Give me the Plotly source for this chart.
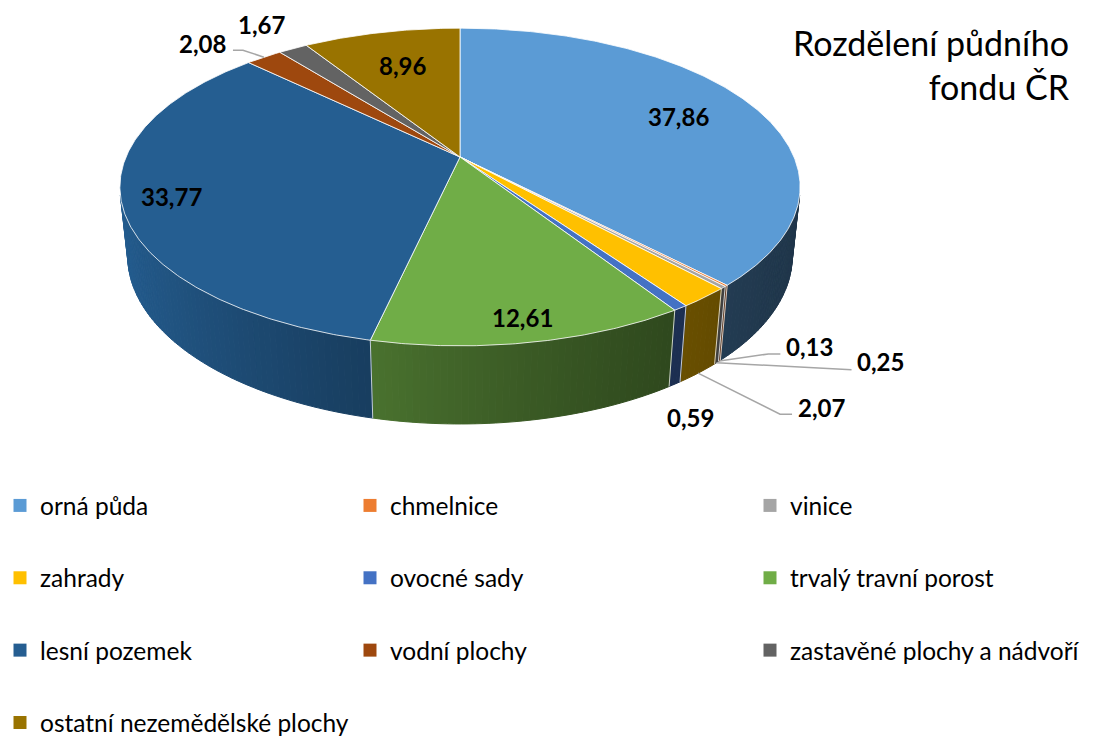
import math
import plotly.graph_objects as go

# ---------------- data ----------------
categories = ["orná půda", "chmelnice", "vinice", "zahrady", "ovocné sady",
              "trvalý travní porost", "lesní pozemek", "vodní plochy",
              "zastavěné plochy a nádvoří", "ostatní nezemědělské plochy"]
values = [37.86, 0.13, 0.25, 2.07, 0.59, 12.61, 33.77, 2.08, 1.67, 8.96]
title_lines = ["Rozdělení půdního", "fondu ČR"]

# ---------------- style ----------------
colors = ["#5B9BD5", "#ED7D31", "#A5A5A5", "#FFC000", "#4472C4",
          "#70AD47", "#255E91", "#9E480E", "#636363", "#997300"]
FONT = "Lato"
W, H = 1098, 738
# 3D projection settings (pixel space)
CX, CY = 460.0, 157.0
F = 334.0
ALPHA = math.radians(27.3)
RR = 0.2125      # radius / camera distance
HH = 0.234       # thickness / radius
SA, CA = math.sin(ALPHA), math.cos(ALPHA)

# label placement: ("in", radius) or ("out", label offset, leader offsets)
label_place = [
    ("in", 0.74),
    ("out", (90, -14), [(49, -7), (61, -7)]),
    ("out", (164, -1), [(135, 7)]),
    ("out", (123, 34), [(82, 41), (94, 41)]),
    ("out", (16, 33), []),
    ("in", 0.89),
    ("in", 0.86),
    ("out", (-61, -14), [(-21, -7), (-31, -7)]),
    ("out", (-31, -24), []),
    ("in", 0.70),
]
legend_cols = [[0, 3, 6, 9], [1, 4, 7], [2, 5, 8]]


def proj(u, v, w=0.0):
    dd = 1 - RR * (w * SA + v * CA)
    return CX + F * u / dd, CY + F * (v * SA - w * CA) / dd


def rim(theta_deg, w=0.0, rho=1.0):
    t = math.radians(theta_deg)
    return proj(rho * math.sin(t), -rho * math.cos(t), w)


def hex2rgb(h):
    h = h.lstrip("#")
    return tuple(int(h[i:i + 2], 16) for i in (0, 2, 4))


def shade(hexc, theta_deg):
    t = math.radians(theta_deg)
    f = 0.35 + 0.65 * ((1 - math.sin(t)) / 2) ** 1.5
    r, g, b = hex2rgb(hexc)
    return "rgb(%d,%d,%d)" % (r * f, g * f, b * f)


total = sum(values)
angles = []
acc = 0.0
for v in values:
    a0 = acc / total * 360
    acc += v
    a1 = acc / total * 360
    angles.append((a0, a1))

fig = go.Figure()

# visible range of the outer side wall
v_sil = RR / CA
th_vis0 = math.degrees(math.acos(-v_sil))
th_vis1 = 360 - th_vis0

# ---- side walls ----
for i, (a0, a1) in enumerate(angles):
    s0, s1 = max(a0, th_vis0), min(a1, th_vis1)
    if s1 <= s0:
        continue
    n = max(1, int(math.ceil((s1 - s0) / 1.0)))
    for k in range(n):
        ta = s0 + (s1 - s0) * k / n
        tb = s0 + (s1 - s0) * (k + 1) / n
        p = [rim(ta), rim(tb), rim(tb, -HH), rim(ta, -HH), rim(ta)]
        col = shade(colors[i], (ta + tb) / 2)
        fig.add_trace(go.Scatter(
            x=[q[0] for q in p], y=[q[1] for q in p], mode="lines",
            fill="toself", fillcolor=col, line=dict(color=col, width=1),
            hoverinfo="skip", showlegend=False))

# boundary lines on side wall
for i, (a0, a1) in enumerate(angles):
    if th_vis0 < a0 < th_vis1:
        p0, p1 = rim(a0), rim(a0, -HH)
        fig.add_trace(go.Scatter(
            x=[p0[0], p1[0]], y=[p0[1], p1[1]], mode="lines",
            line=dict(color="rgba(255,255,255,0.75)", width=1),
            hoverinfo="skip", showlegend=False))

# ---- top faces ----
for i, (a0, a1) in enumerate(angles):
    n = max(2, int(math.ceil((a1 - a0) / 0.5)))
    pts = [proj(0, 0)]
    for k in range(n + 1):
        pts.append(rim(a0 + (a1 - a0) * k / n))
    pts.append(proj(0, 0))
    fig.add_trace(go.Scatter(
        x=[q[0] for q in pts], y=[q[1] for q in pts], mode="lines",
        fill="toself", fillcolor=colors[i],
        line=dict(color="rgba(255,255,255,0.8)", width=1),
        hoverinfo="skip", showlegend=False))

# ---- labels ----
annotations = []
for i, (a0, a1) in enumerate(angles):
    mid = (a0 + a1) / 2
    txt = ("%.2f" % values[i]).replace(".", ",")
    place = label_place[i]
    if place[0] == "in":
        lx, ly = rim(mid, 0, place[1])
    else:
        if th_vis0 < mid < th_vis1:
            ax, ay = rim(mid, -HH)
        else:
            ax, ay = rim(mid)
        lx, ly = ax + place[1][0], ay + place[1][1]
        if place[2]:
            xs = [ax] + [ax + d[0] for d in place[2]]
            ys = [ay] + [ay + d[1] for d in place[2]]
            fig.add_trace(go.Scatter(
                x=xs, y=ys, mode="lines",
                line=dict(color="#A6A6A6", width=1.5),
                hoverinfo="skip", showlegend=False))
    annotations.append(dict(
        x=lx, y=ly, xref="x", yref="y", text="<b>%s</b>" % txt,
        showarrow=False, xanchor="center", yanchor="middle",
        font=dict(family=FONT, size=24, color="#000000")))

annotations.append(dict(
    x=1072, y=64, xref="x", yref="y", text="<br>".join(title_lines),
    showarrow=False, xanchor="right", yanchor="middle", align="right",
    font=dict(family=FONT, size=34, color="#000000")))

# ---- legend entries ----
legend_names = ["legend", "legend2", "legend3"]
for c, idxs in enumerate(legend_cols):
    for i in idxs:
        fig.add_trace(go.Scatter(
            x=[None], y=[None], mode="markers", name=categories[i],
            marker=dict(symbol="square", size=13, color=colors[i]),
            legend=legend_names[c], legendgroup=categories[i],
            showlegend=True))

leg_common = dict(yanchor="top", xanchor="left", y=1 - 483 / H,
                  xref="container", yref="container",
                  font=dict(family=FONT, size=24.5, color="#000000"),
                  tracegroupgap=37.5, bgcolor="rgba(0,0,0,0)", borderwidth=0,
                  orientation="v")

fig.update_layout(
    width=W, height=H,
    margin=dict(l=0, r=0, t=0, b=0, pad=0, autoexpand=False),
    paper_bgcolor="white", plot_bgcolor="white",
    xaxis=dict(range=[0, W], visible=False, fixedrange=True),
    yaxis=dict(range=[H, 0], visible=False, fixedrange=True),
    annotations=annotations,
    legend=dict(x=0, **leg_common),
    legend2=dict(x=350 / W, **leg_common),
    legend3=dict(x=750 / W, **leg_common),
    showlegend=True,
)

fig.write_html("out.html", config={"displayModeBar": False},
               post_script="document.body.style.margin='0px';")
